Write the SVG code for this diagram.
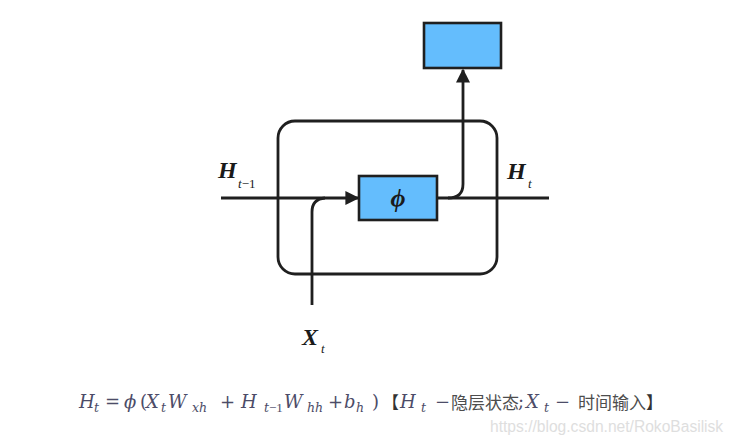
<svg xmlns="http://www.w3.org/2000/svg" width="737" height="443" viewBox="0 0 737 443">
<defs>
<style>
.ln{fill:none;stroke:#1f1f1f;stroke-width:2.8;}
.box{fill:#64bdfd;stroke:#1f1f1f;stroke-width:2.6;}
.lbl{font-family:"Liberation Serif","DejaVu Serif",serif;font-style:italic;font-weight:bold;font-size:24px;fill:#1a1a1a;}
.sub{font-family:"Liberation Serif","DejaVu Serif",serif;font-style:italic;font-size:13px;fill:#1a1a1a;}
.m{font-family:"DejaVu Serif",serif;font-style:italic;font-size:18px;fill:#4c4c68;}
.mn{font-family:"DejaVu Serif",serif;font-size:18px;fill:#4c4c68;}
.ms{font-family:"DejaVu Serif",serif;font-style:italic;font-size:12.5px;fill:#4c4c68;}
.msn{font-family:"Liberation Serif",serif;font-style:normal;font-size:13px;fill:#4c4c68;}
.cjk{font-family:"Noto Sans CJK SC",sans-serif;font-size:17px;fill:#4d4d4d;}
.wm{font-family:"Liberation Sans",Arial,sans-serif;font-size:15.6px;fill:#dedede;}
</style>
<marker id="ah" viewBox="0 0 10 10" refX="9" refY="5" markerWidth="5" markerHeight="5" orient="auto" markerUnits="strokeWidth">
<path d="M0,0 L10,5 L0,10 z" fill="#1f1f1f"/>
</marker>
</defs>
<rect width="737" height="443" fill="#ffffff"/>
<g id="cell">
<rect x="278" y="121" width="219" height="153" rx="17" ry="17" class="ln"/>
</g>
<g id="connectors">
<line x1="221" y1="198" x2="358" y2="198" class="ln" marker-end="url(#ah)"/>
<line x1="437" y1="198" x2="549" y2="198" class="ln"/>
<path d="M312,305 L312,212 Q312,199 325,198" class="ln"/>
<path d="M448,198 Q463,198 463,184 L463,70" class="ln" marker-end="url(#ah)"/>
</g>
<g id="phi">
<rect x="359" y="176" width="78" height="44" class="box"/>
<text x="398" y="207" text-anchor="middle" class="lbl" style="font-size:26px">ϕ</text>
</g>
<g id="output">
<rect x="424" y="23" width="77" height="45" class="box"/>
</g>
<g id="labels">
<text x="218" y="178" class="lbl">H</text>
<text x="238" y="188" class="sub">t<tspan font-style="normal">−1</tspan></text>
<text x="507" y="179" class="lbl">H</text>
<text x="528" y="188" class="sub">t</text>
<text x="302" y="345" class="lbl">X</text>
<text x="321" y="353" class="sub">t</text>
</g>
<g id="formula">
<text x="79" y="408" class="m">H</text>
<text x="94" y="412" class="ms">t</text>
<text x="105" y="408" class="mn">=</text>
<text x="124" y="408" class="m">ϕ</text>
<text x="140" y="408" class="mn">(</text>
<text x="146" y="408" class="m">X</text>
<text x="161" y="412" class="ms">t</text>
<text x="168" y="408" class="m">W</text>
<text x="192" y="412" class="ms">xh</text>
<text x="220" y="408" class="mn">+</text>
<text x="241" y="408" class="m">H</text>
<text x="264" y="412" class="ms">t<tspan class="msn">−1</tspan></text>
<text x="284" y="408" class="m">W</text>
<text x="307" y="412" class="ms">hh</text>
<text x="328" y="408" class="mn">+</text>
<text x="344" y="408" class="m">b</text>
<text x="356" y="412" class="ms">h</text>
<text x="372" y="408" class="mn">)</text>
<text x="382" y="409" class="cjk" style="fill:#333">【</text>
<text x="400" y="408" class="m">H</text>
<text x="421" y="412" class="ms">t</text>
<text x="435" y="408" class="mn">−</text>
<text x="451" y="409" class="cjk">隐层状态</text>
<text x="518" y="408" class="mn">;</text>
<text x="526" y="408" class="m">X</text>
<text x="544" y="412" class="ms">t</text>
<text x="555" y="408" class="mn">−</text>
<text x="578" y="409" class="cjk">时间输入</text>
<text x="646" y="409" class="cjk" style="fill:#333">】</text>
</g>
<text x="490" y="432" class="wm">https://blog.csdn.net/RokoBasilisk</text>
</svg>
